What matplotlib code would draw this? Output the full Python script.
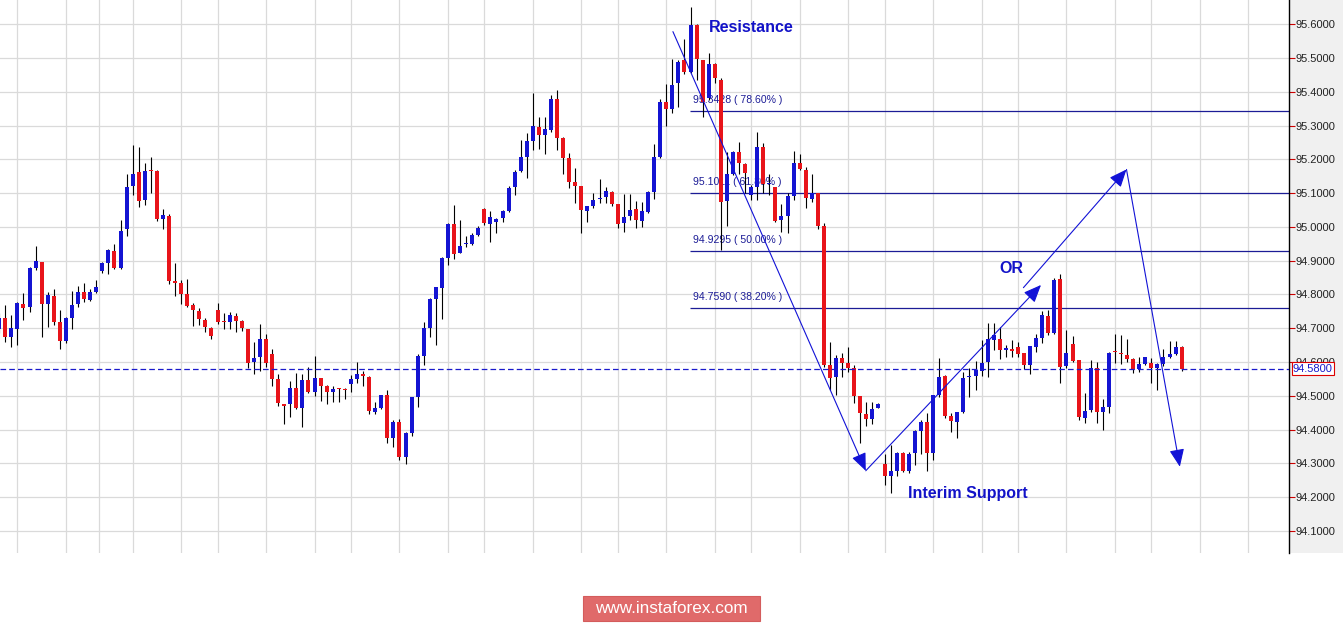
"""
USD index style candlestick chart with fibonacci levels and projected moves
"""

import numpy as np
import matplotlib.pyplot as plt
from matplotlib.patches import Rectangle
from matplotlib import transforms

plt.rcParams['font.family'] = ['Liberation Sans', 'DejaVu Sans']

# ---- data (OHLC, first candle only half visible) ----
opens = [94.697, 94.729, 94.673, 94.698, 94.772, 94.764, 94.879, 94.896, 94.771, 94.795,
         94.718, 94.663, 94.731, 94.771, 94.806, 94.784, 94.808, 94.870, 94.892, 94.929,
         94.879, 94.993, 95.122, 95.161, 95.080, 95.167, 95.166, 95.023, 95.032, 94.839,
         94.833, 94.800, 94.770, 94.751, 94.725, 94.701, 94.754, 94.719, 94.717, 94.737,
         94.720, 94.698, 94.601, 94.616, 94.668, 94.624, 94.550, 94.476, 94.475, 94.522,
         94.465, 94.547, 94.512, 94.552, 94.529, 94.512, 94.521, 94.518, 94.535, 94.550,
         94.561, 94.555, 94.453, 94.465, 94.502, 94.376, 94.422, 94.320, 94.391, 94.495,
         94.618, 94.702, 94.787, 94.818, 94.909, 95.008, 94.924, 94.948, 94.948, 94.976,
         95.052, 95.008, 95.015, 95.025, 95.048, 95.119, 95.166, 95.208, 95.255, 95.297,
         95.272, 95.287, 95.379, 95.262, 95.203, 95.132, 95.121, 95.048, 95.062, 95.082,
         95.087, 95.104, 95.068, 95.010, 95.032, 95.052, 95.018, 95.045, 95.104, 95.208,
         95.369, 95.349, 95.425, 95.494, 95.457, 95.598, 95.494, 95.381, 95.482, 95.435,
         95.078, 95.158, 95.223, 95.186, 95.094, 95.119, 95.237, 95.126, 95.117, 95.020,
         95.032, 95.091, 95.188, 95.168, 95.083, 95.099, 95.003, 94.591, 94.556, 94.611,
         94.596, 94.581, 94.499, 94.446, 94.431, 94.465, 94.298, 94.263, 94.277, 94.331,
         94.277, 94.332, 94.396, 94.423, 94.332, 94.502, 94.558, 94.441, 94.423, 94.453,
         94.555, 94.558, 94.574, 94.601, 94.665, 94.668, 94.636, 94.636, 94.643, 94.626,
         94.591, 94.645, 94.672, 94.736, 94.687, 94.845, 94.588, 94.653, 94.606, 94.435,
         94.458, 94.581, 94.453, 94.466, 94.631, 94.626, 94.621, 94.609, 94.579, 94.593,
         94.596, 94.581, 94.594, 94.616, 94.623, 94.643]
highs = [94.744, 94.769, 94.739, 94.779, 94.803, 94.882, 94.942, 94.896, 94.808, 94.816,
         94.754, 94.732, 94.810, 94.826, 94.833, 94.816, 94.843, 94.897, 94.935, 94.948,
         95.021, 95.157, 95.241, 95.235, 95.188, 95.208, 95.167, 95.053, 95.038, 94.892,
         94.843, 94.846, 94.774, 94.759, 94.729, 94.705, 94.776, 94.744, 94.747, 94.744,
         94.723, 94.698, 94.660, 94.713, 94.683, 94.639, 94.564, 94.477, 94.544, 94.567,
         94.564, 94.584, 94.618, 94.554, 94.532, 94.529, 94.522, 94.522, 94.562, 94.601,
         94.574, 94.559, 94.481, 94.502, 94.517, 94.428, 94.431, 94.394, 94.495, 94.624,
         94.717, 94.790, 94.823, 94.912, 95.011, 95.065, 95.020, 94.973, 94.981, 95.003,
         95.055, 95.047, 95.025, 95.050, 95.121, 95.168, 95.257, 95.277, 95.397, 95.324,
         95.324, 95.390, 95.405, 95.267, 95.218, 95.173, 95.121, 95.062, 95.101, 95.141,
         95.117, 95.107, 95.068, 95.097, 95.097, 95.077, 95.075, 95.107, 95.245, 95.378,
         95.422, 95.496, 95.494, 95.555, 95.652, 95.601, 95.494, 95.516, 95.486, 95.440,
         95.223, 95.226, 95.250, 95.190, 95.124, 95.282, 95.249, 95.158, 95.119, 95.068,
         95.099, 95.225, 95.216, 95.178, 95.158, 95.101, 95.010, 94.660, 94.621, 94.626,
         94.643, 94.591, 94.499, 94.482, 94.482, 94.479, 94.329, 94.354, 94.334, 94.334,
         94.334, 94.399, 94.428, 94.448, 94.502, 94.611, 94.561, 94.448, 94.451, 94.571,
         94.581, 94.604, 94.665, 94.716, 94.714, 94.704, 94.650, 94.665, 94.660, 94.626,
         94.648, 94.683, 94.751, 94.754, 94.848, 94.860, 94.695, 94.677, 94.606, 94.509,
         94.606, 94.601, 94.490, 94.630, 94.682, 94.680, 94.667, 94.611, 94.616, 94.616,
         94.611, 94.598, 94.638, 94.663, 94.663, 94.647]
lows = [94.685, 94.660, 94.645, 94.650, 94.724, 94.749, 94.872, 94.675, 94.705, 94.710,
        94.639, 94.655, 94.698, 94.762, 94.777, 94.782, 94.803, 94.863, 94.861, 94.875,
        94.875, 94.973, 95.095, 95.060, 95.065, 95.101, 95.016, 94.994, 94.831, 94.794,
        94.772, 94.764, 94.707, 94.710, 94.690, 94.668, 94.713, 94.697, 94.698, 94.688,
        94.693, 94.581, 94.564, 94.574, 94.586, 94.530, 94.470, 94.416, 94.436, 94.461,
        94.409, 94.509, 94.500, 94.486, 94.475, 94.483, 94.483, 94.490, 94.512, 94.539,
        94.529, 94.446, 94.446, 94.460, 94.361, 94.347, 94.310, 94.297, 94.382, 94.468,
        94.591, 94.675, 94.649, 94.728, 94.887, 94.904, 94.922, 94.939, 94.946, 94.973,
        95.006, 94.956, 94.981, 95.015, 95.045, 95.094, 95.163, 95.144, 95.229, 95.232,
        95.215, 95.282, 95.229, 95.158, 95.114, 95.070, 94.983, 95.015, 95.055, 95.070,
        95.072, 95.063, 94.998, 94.986, 95.020, 94.996, 95.001, 95.040, 95.082, 95.203,
        95.299, 95.336, 95.356, 95.453, 95.455, 95.435, 95.326, 95.376, 95.425, 94.931,
        95.003, 95.153, 95.158, 95.099, 95.080, 95.080, 95.099, 95.094, 95.015, 94.986,
        94.981, 95.080, 95.168, 95.055, 95.075, 94.993, 94.585, 94.517, 94.502, 94.556,
        94.571, 94.479, 94.361, 94.411, 94.415, 94.463, 94.236, 94.213, 94.262, 94.273,
        94.270, 94.295, 94.329, 94.277, 94.310, 94.497, 94.433, 94.394, 94.376, 94.448,
        94.497, 94.517, 94.559, 94.556, 94.635, 94.609, 94.616, 94.616, 94.616, 94.579,
        94.563, 94.630, 94.655, 94.680, 94.683, 94.539, 94.581, 94.601, 94.428, 94.420,
        94.453, 94.418, 94.400, 94.450, 94.596, 94.593, 94.601, 94.566, 94.571, 94.591,
        94.539, 94.517, 94.588, 94.613, 94.621, 94.574]
closes = [94.729, 94.673, 94.700, 94.774, 94.761, 94.879, 94.899, 94.771, 94.798, 94.719,
          94.663, 94.729, 94.769, 94.806, 94.786, 94.808, 94.821, 94.892, 94.932, 94.879,
          94.988, 95.119, 95.157, 95.078, 95.166, 95.165, 95.023, 95.035, 94.841, 94.835,
          94.801, 94.767, 94.754, 94.726, 94.703, 94.678, 94.718, 94.717, 94.739, 94.720,
          94.702, 94.598, 94.613, 94.668, 94.598, 94.549, 94.480, 94.471, 94.522, 94.465,
          94.547, 94.512, 94.552, 94.530, 94.512, 94.520, 94.519, 94.516, 94.549, 94.564,
          94.559, 94.456, 94.465, 94.502, 94.376, 94.422, 94.320, 94.391, 94.495, 94.618,
          94.702, 94.787, 94.821, 94.908, 95.008, 94.920, 94.943, 94.949, 94.976, 94.998,
          95.010, 95.028, 95.022, 95.047, 95.114, 95.163, 95.208, 95.254, 95.299, 95.272,
          95.289, 95.379, 95.262, 95.205, 95.134, 95.122, 95.050, 95.062, 95.080, 95.084,
          95.106, 95.067, 95.008, 95.030, 95.050, 95.020, 95.048, 95.104, 95.206, 95.371,
          95.348, 95.420, 95.489, 95.457, 95.598, 95.496, 95.371, 95.482, 95.440, 95.075,
          95.158, 95.223, 95.188, 95.160, 95.117, 95.237, 95.127, 95.128, 95.018, 95.032,
          95.091, 95.188, 95.170, 95.085, 95.101, 95.003, 94.591, 94.553, 94.611, 94.598,
          94.581, 94.500, 94.450, 94.431, 94.461, 94.477, 94.263, 94.278, 94.331, 94.277,
          94.329, 94.396, 94.423, 94.331, 94.502, 94.556, 94.441, 94.425, 94.451, 94.553,
          94.557, 94.576, 94.598, 94.668, 94.680, 94.637, 94.638, 94.634, 94.624, 94.591,
          94.647, 94.670, 94.739, 94.687, 94.843, 94.584, 94.628, 94.604, 94.438, 94.455,
          94.581, 94.453, 94.468, 94.627, 94.629, 94.624, 94.608, 94.578, 94.593, 94.614,
          94.581, 94.594, 94.614, 94.623, 94.643, 94.580]

last_price = 94.58
price_ticks = [94.1, 94.2, 94.3, 94.4, 94.5, 94.6, 94.7, 94.8, 94.9, 95.0,
               95.1, 95.2, 95.3, 95.4, 95.5, 95.6]

# vertical grid (candle index of session separators)
grid_idx = [2, 10, 15.5, 21, 29, 35, 43, 51, 57, 65, 73, 79, 87, 95, 101, 109, 117,
            123, 131, 139, 145, 153, 161, 167, 175, 183, 189, 197, 205]

# fibonacci retracement levels
fib_levels = [95.3428, 95.1011, 94.9295, 94.7590]
fib_pcts = ['78.60%', '61.80%', '50.00%', '38.20%']
fib_start = 112.9

# projected path arrows (candle index, price)
arrows = [((110.1, 95.578), (141.9, 94.278)),
          ((141.9, 94.278), (170.8, 94.828)),
          ((167.9, 94.820), (184.9, 95.170)),
          ((184.9, 95.170), (193.7, 94.290))]

# ---- figure ----
W, H = 1343, 626
fig = plt.figure(figsize=(W / 100, H / 100), dpi=100)
fig.patch.set_facecolor('white')
ax = fig.add_axes([0, 73 / H, 1289 / W, 553 / H])

# grey price-scale panel right of the chart
fig.add_artist(Rectangle((1289 / W, 73 / H), 54 / W, 553 / H, transform=fig.transFigure,
                         facecolor='#f0f0f0', edgecolor='none', zorder=0))

o = np.array(opens)
h = np.array(highs)
l = np.array(lows)
c = np.array(closes)
x = np.arange(len(o)) - 1

up = c >= o
colors = np.where(up, '#1414d2', '#e8141a')

# wicks
ax.vlines(x, l, h, colors='black', linewidth=0.8, zorder=3)
# bodies
body_bot = np.minimum(o, c)
body_h = np.maximum(np.abs(c - o), 0.004)
ax.bar(x, body_h, bottom=body_bot, width=0.66, color=colors, edgecolor='none',
       linewidth=0, zorder=4)

ax.set_xlim(-0.874, 211.7)
ax.set_ylim(94.0346, 95.6716)

# grid
ax.set_yticks(price_ticks)
ax.set_xticks(grid_idx)
ax.grid(True, color='#dadada', linewidth=0.9, zorder=0)
ax.set_axisbelow(True)
ax.tick_params(axis='x', length=0, labelbottom=False)
ax.yaxis.tick_right()
ax.yaxis.set_major_formatter(plt.FormatStrFormatter('%.4f'))
ax.tick_params(axis='y', direction='out', length=4, width=0.8, color='#cc0000',
               labelsize=8, labelcolor='#222222', pad=1)

for side in ['top', 'left', 'bottom']:
    ax.spines[side].set_visible(False)
ax.spines['right'].set_color('black')
ax.spines['right'].set_linewidth(1)

# fibonacci lines and labels
ax.hlines(fib_levels, fib_start, 211.7, colors='#1c1c96', linewidth=0.9, zorder=2)
for lvl, pct in zip(fib_levels, fib_pcts):
    ax.annotate(f'{lvl:.4f} ( {pct} )', xy=(fib_start + 0.5, lvl), xytext=(0, 8),
                textcoords='offset points', ha='left', va='center',
                fontsize=7.6, color='#1c1c96', zorder=1)

# current price line and box
ax.axhline(last_price, color='#1a1acc', linewidth=0.9, linestyle=(0, (4.5, 2.5)), zorder=5)
trans = transforms.blended_transform_factory(ax.transAxes, ax.transData)
ax.text(1.003, last_price, f'{last_price:.4f}', transform=trans, ha='left', va='center',
        fontsize=8, color='#1a1acc', clip_on=False, zorder=10,
        bbox=dict(boxstyle='square,pad=0.12', facecolor='white', edgecolor='#dd0000',
                  linewidth=0.8))

# projected path
for (x0, y0), (x1, y1) in arrows:
    ax.annotate('', xy=(x1, y1), xytext=(x0, y0),
                arrowprops=dict(arrowstyle='-|>,head_length=0.9,head_width=0.38',
                                mutation_scale=12, color='#1212d6', linewidth=0.8,
                                shrinkA=0, shrinkB=0), zorder=6)

# annotations
ax.text(116.0, 95.589, 'Resistance', fontsize=11.5, fontweight='bold', color='#1212c8',
        ha='left', va='center', zorder=7)
ax.text(163.9, 94.878, 'OR', fontsize=11.5, fontweight='bold', color='#1212c8',
        ha='left', va='center', zorder=7)
ax.text(148.9, 94.212, 'Interim Support', fontsize=11.5, fontweight='bold', color='#1212c8',
        ha='left', va='center', zorder=7)

# watermark
fig.add_artist(Rectangle((583 / W, 5 / H), 177 / W, 25.5 / H, transform=fig.transFigure,
                         facecolor='#e06a6a', edgecolor='#d45c5c', linewidth=0.8))
fig.text(671.5 / W, 17.5 / H, 'www.instaforex.com', ha='center', va='center',
         fontsize=12.3, color='white')

plt.savefig('out.png', dpi=100)
plt.close()
